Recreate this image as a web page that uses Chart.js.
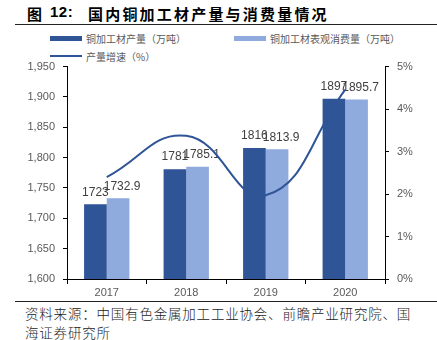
<!DOCTYPE html>
<html>
<head>
<meta charset="utf-8">
<script src="https://cdn.jsdelivr.net/npm/chart.js@4"></script>
<style>
  body { margin: 0; width: 437px; height: 340px; background: #fff; position: relative; overflow: hidden;
         font-family: "Liberation Sans", Arial, "Noto Sans CJK SC", sans-serif; }
  .tt { position: absolute; top: 3px; font-size: 15px; font-weight: bold; color: #000;
        font-family: "Liberation Sans", Arial, "Noto Sans CJK SC", sans-serif; letter-spacing: 2.2px; }
  #rule1 { position: absolute; left: 15px; top: 24px; width: 422px; height: 0; border-top: 1.5px solid #222; }
  #rule2 { position: absolute; left: 15px; top: 301px; width: 422px; height: 0; border-top: 1.5px solid #222; }
  #source { position: absolute; left: 25px; top: 304px; font-size: 13.5px; line-height: 19px; color: #222;
            letter-spacing: 0.8px; font-family: "Noto Sans CJK SC", sans-serif; font-weight: 300; }
  .lg { position: absolute; font-size: 10px; color: #595959; font-family: "Noto Sans CJK SC", sans-serif; }
  .sw { position: absolute; width: 32px; }
  #wrap { position: absolute; left: 0; top: 52px; width: 437px; height: 248px; }
</style>
</head>
<body>
<div class="tt" style="left:27px">图</div>
<div class="tt" style="left:50px;letter-spacing:0.5px">12:</div>
<div class="tt" style="left:88px">国内铜加工材产量与消费量情况</div>
<div id="rule1"></div>

<div class="sw" style="left:50px;top:36px;height:5px;background:#2F5597"></div>
<div class="lg" style="left:86px;top:31px">铜加工材产量（万吨）</div>
<div class="sw" style="left:234px;top:36px;height:5px;background:#8FAADC"></div>
<div class="lg" style="left:270px;top:31px">铜加工材表观消费量（万吨）</div>
<div class="sw" style="left:50px;top:55px;height:2px;background:#2F5597"></div>
<div class="lg" style="left:86px;top:49px">产量增速（%）</div>

<div id="wrap"><canvas id="myChart" width="437" height="248"></canvas></div>

<div id="rule2"></div>
<div id="source">资料来源：中国有色金属加工工业协会、前瞻产业研究院、国<br>海证券研究所</div>

<script>
var years = ['2017', '2018', '2019', '2020'];
var output = [1723, 1781, 1816, 1897];
var consumption = [1732.9, 1785.1, 1813.9, 1895.7];
var growth = [2.4, 3.37, 1.97, 4.46];
var leftTicks = [1600, 1650, 1700, 1750, 1800, 1850, 1900, 1950];
var rightTicks = [0, 1, 2, 3, 4, 5];

var dark = '#2F5597';
var light = '#8FAADC';
var tickFont = { family: '"Liberation Sans", Arial, sans-serif', size: 11 };

// value labels above the bars
var barLabels = {
  id: 'barLabels',
  afterDatasetDraw: function(chart, args) {
    var meta = args.meta;
    if (meta.type !== 'bar') return;
    var ctx = chart.ctx;
    var ds = chart.data.datasets[args.index];
    ctx.save();
    ctx.font = '12px "Liberation Sans", Arial, sans-serif';
    ctx.fillStyle = '#404040';
    ctx.textAlign = 'center';
    ctx.textBaseline = 'bottom';
    meta.data.forEach(function(bar, i) {
      var shift = args.index === 1 ? 4 : 0;
      ctx.fillText(String(ds.data[i]), bar.x + shift, bar.y - 6);
    });
    ctx.restore();
  }
};

var ctx = document.getElementById('myChart');
var myChart = new Chart(ctx, {
  type: 'bar',
  data: {
    labels: years,
    datasets: [
      { label: '铜加工材产量（万吨）', data: output, backgroundColor: dark, yAxisID: 'y', order: 2,
        categoryPercentage: 0.57, barPercentage: 1 },
      { label: '铜加工材表观消费量（万吨）', data: consumption, backgroundColor: light, yAxisID: 'y', order: 2,
        categoryPercentage: 0.57, barPercentage: 1 },
      { type: 'line', label: '产量增速（%）', data: growth, borderColor: dark, borderWidth: 2,
        pointRadius: 0, tension: 0.45, yAxisID: 'y1', order: 1, fill: false }
    ]
  },
  options: {
    responsive: false,
    animation: false,
    layout: { padding: 0 },
    plugins: { legend: { display: false }, tooltip: { enabled: false } },
    scales: {
      x: {
        grid: { drawOnChartArea: false, tickLength: 5, color: '#000', offset: true },
        border: { color: '#000', width: 1 },
        ticks: { color: '#595959', font: tickFont, padding: 2 },
        afterFit: function(s) { s.height = 21; }
      },
      y: {
        position: 'left',
        min: 1600, max: 1950,
        afterBuildTicks: function(s) { s.ticks = leftTicks.map(function(v) { return { value: v }; }); },
        grid: { drawOnChartArea: false, tickLength: 4, color: '#000' },
        border: { color: '#000', width: 1 },
        ticks: { color: '#595959', font: tickFont, padding: 8,
                 callback: function(v) { return v.toLocaleString('en-US'); } },
        afterFit: function(s) { s.width = 67; }
      },
      y1: {
        position: 'right',
        min: 0, max: 5,
        afterBuildTicks: function(s) { s.ticks = rightTicks.map(function(v) { return { value: v }; }); },
        grid: { drawOnChartArea: false, tickLength: 4, color: '#000' },
        border: { color: '#000', width: 1 },
        ticks: { color: '#595959', font: tickFont, padding: 8,
                 callback: function(v) { return v + '%'; } },
        afterFit: function(s) { s.width = 52; }
      }
    }
  },
  plugins: [barLabels]
});
</script>
</body>
</html>
